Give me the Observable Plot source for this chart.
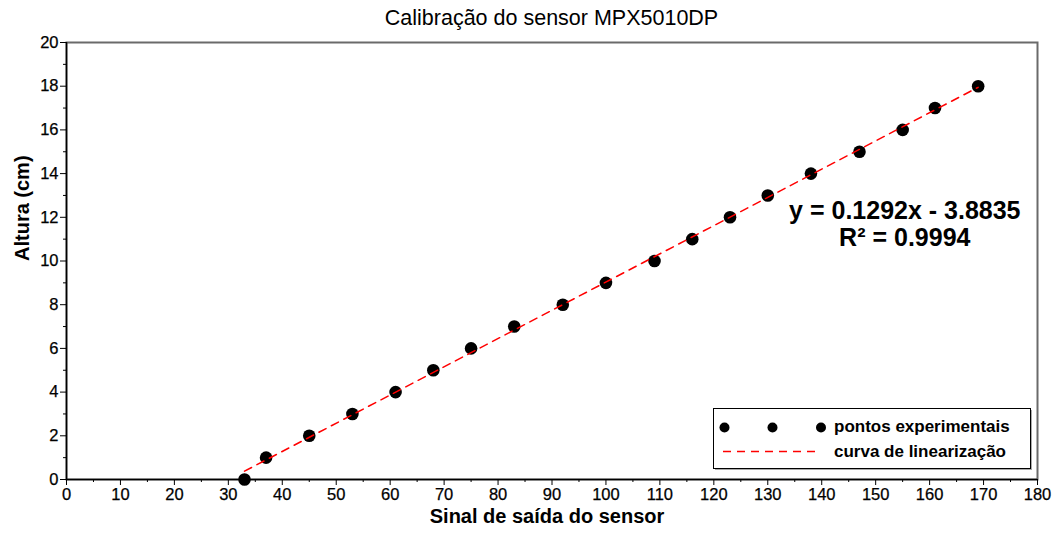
<!DOCTYPE html>
<html><head><meta charset="utf-8">
<script src="https://cdn.jsdelivr.net/npm/d3@7"></script>
<script src="https://cdn.jsdelivr.net/npm/@observablehq/plot@0.6"></script>
<style>
body{margin:0;background:#fff;font-family:"Liberation Sans",Arial,sans-serif;}
#wrap{position:relative;width:1052px;height:536px;overflow:hidden;}
#title{position:absolute;left:66px;width:971px;top:8px;line-height:21px;text-align:center;font-size:21.5px;color:#000;}
#chart{position:absolute;left:0;top:30px;}
#legend{position:absolute;left:0;top:0;pointer-events:none;}
</style></head>
<body>
<div id="wrap">
  <div id="title">Calibração do sensor MPX5010DP</div>
  <div id="chart"></div>
  <svg id="legend" width="1052" height="536"></svg>
</div>
<script>
// ---- data ----
const sinal = [33, 37, 45, 53, 61, 68, 75, 83, 92, 100, 109, 116, 123, 130, 138, 147, 155, 161, 169];
const altura = [0, 1, 2, 3, 4, 5, 6, 7, 8, 9, 10, 11, 12, 13, 14, 15, 16, 17, 18];
const fitX = [33, 169];
const fitY = [0.38, 17.95];
const xTicks = [0, 10, 20, 30, 40, 50, 60, 70, 80, 90, 100, 110, 120, 130, 140, 150, 160, 170, 180];
const xMinor = [5, 15, 25, 35, 45, 55, 65, 75, 85, 95, 105, 115, 125, 135, 145, 155, 165, 175];
const yTicks = [0, 2, 4, 6, 8, 10, 12, 14, 16, 18, 20];
const yMinor = [1, 3, 5, 7, 9, 11, 13, 15, 17, 19];
const annText = ["y = 0.1292x - 3.8835", "R² = 0.9994"];
const annX = [155.4, 155.4];
const annY = [12.29, 11.03];
const legendLabels = ["pontos experimentais", "curva de linearização"];
const titleX = "Sinal de saída do sensor";
const titleY = "Altura (cm)";

const points = sinal.map((x, i) => ({x, y: altura[i]}));
const fit = fitX.map((x, i) => ({x, y: fitY[i]}));
const ann = annText.map((t, i) => ({t, x: annX[i], y: annY[i]}));

const font = "Liberation Sans, Arial, sans-serif";
const chart = Plot.plot({
  width: 1052, height: 506,
  marginLeft: 66, marginRight: 15, marginTop: 12, marginBottom: 57,
  style: {fontFamily: font, fontSize: "17px", color: "#000", background: "transparent"},
  x: {domain: [0, 180]},
  y: {domain: [0, 20]},
  marks: [
    Plot.frame({stroke: "#6a6a6a", strokeWidth: 2}),
    Plot.axisX(xTicks, {tickSize: 6, text: null, label: null, stroke: "#000"}),
    Plot.axisX(xMinor, {tickSize: 3, text: null, label: null, stroke: "#000"}),
    Plot.axisY(yTicks, {tickSize: 6, text: null, label: null, stroke: "#000"}),
    Plot.axisY(yMinor, {tickSize: 3, text: null, label: null, stroke: "#000"}),
    Plot.text(xTicks, {x: d => d, frameAnchor: "bottom", dy: 20, fontSize: 16.5, fill: "#000", stroke: "#000", strokeWidth: 0.25}),
    Plot.text(yTicks, {y: d => d, frameAnchor: "left", dx: -8, textAnchor: "end", fontSize: 16.5, fill: "#000", stroke: "#000", strokeWidth: 0.25}),
    Plot.ruleX([0], {stroke: "#000", strokeWidth: 1.5}),
    Plot.ruleY([0], {stroke: "#000", strokeWidth: 1.5}),
    Plot.dot(points, {x: "x", y: "y", r: 6.3, fill: "#000"}),
    Plot.line(fit, {x: "x", y: "y", stroke: "#ff0000", strokeWidth: 1.5, strokeDasharray: "8,6"}),
    Plot.text(ann, {x: "x", y: "y", text: "t", fontSize: 25, fontWeight: "bold", textAnchor: "middle", fill: "#000"}),
    Plot.text([titleX], {frameAnchor: "bottom", dy: 43, dx: -5, fontSize: 20, fontWeight: "bold", fill: "#000"}),
    Plot.text([titleY], {frameAnchor: "left", dx: -44, rotate: -90, fontSize: 20, fontWeight: "bold", fill: "#000"})
  ]
});
document.getElementById("chart").appendChild(chart);

// ---- legend ----
const lg = d3.select("#legend").append("g").attr("transform", "translate(713,408)");
lg.append("rect").attr("x", 2).attr("y", 2).attr("width", 317).attr("height", 60).attr("fill", "#aaa");
lg.append("rect").attr("x", 0.5).attr("y", 0.5).attr("width", 317).attr("height", 60)
  .attr("fill", "#fff").attr("stroke", "#000").attr("stroke-width", 1);
[11.5, 59.5, 108].forEach(cx => lg.append("circle").attr("cx", cx).attr("cy", 19.5).attr("r", 5).attr("fill", "#000"));
lg.append("line").attr("x1", 10).attr("x2", 108).attr("y1", 43.5).attr("y2", 43.5)
  .attr("stroke", "#ff0000").attr("stroke-width", 1.5).attr("stroke-dasharray", "8,6");
legendLabels.forEach((t, i) => lg.append("text").attr("x", 121).attr("y", 24 + i * 24.5)
  .attr("font-family", font).attr("font-size", 17).attr("font-weight", "bold").attr("fill", "#000").text(t));
</script>
</body></html>
